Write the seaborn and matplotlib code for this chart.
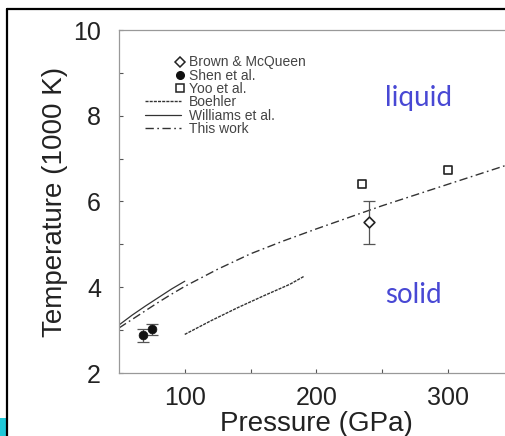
import numpy as np
import pandas as pd
import matplotlib
matplotlib.use("Agg")
import matplotlib.pyplot as plt
from matplotlib.lines import Line2D
from matplotlib.patches import Rectangle
from matplotlib.legend_handler import HandlerLine2D
import seaborn as sns

# Melting curves (pressure in GPa, temperature in 1000 K)
this_work_p = [50, 60, 70, 80, 90, 100, 125, 150, 175, 200, 225, 250, 275, 300, 325, 350]
this_work_t = [3.05, 3.25, 3.45, 3.65, 3.84, 4.02, 4.42, 4.78, 5.08, 5.36, 5.63, 5.9, 6.15, 6.4, 6.65, 6.9]

williams_p = [50, 60, 70, 80, 90, 100]
williams_t = [3.12, 3.35, 3.56, 3.76, 3.96, 4.14]

boehler_p = [100, 120, 140, 160, 180, 191]
boehler_t = [2.9, 3.22, 3.52, 3.8, 4.07, 4.26]

# Experimental points
brown_p, brown_t, brown_err = [240], [5.52], [0.5]
shen_p, shen_t, shen_err = [68, 75], [2.88, 3.02], [0.15, 0.13]
yoo_p, yoo_t = [235, 300], [6.4, 6.74]

sns.set_theme(style="ticks")
plt.rcParams["font.family"] = ["Liberation Sans", "DejaVu Sans"]

fig = plt.figure(figsize=(5.06, 4.36), dpi=100)
ax = fig.add_axes([119 / 506, 1 - 373 / 436, 300 * 1.315 / 506, 343 / 436])

ink = "#333333"
sns.lineplot(x=boehler_p, y=boehler_t, ax=ax, color=ink, lw=1.0,
             linestyle=(0, (2.2, 0.8)), label="Boehler")
sns.lineplot(x=williams_p, y=williams_t, ax=ax, color=ink, lw=0.9,
             linestyle="-", label="Williams et al.")
sns.lineplot(x=this_work_p, y=this_work_t, ax=ax, color=ink, lw=1.0,
             linestyle=(0, (6, 2.5, 1.2, 2.5)), label="This work")

ax.errorbar(brown_p, brown_t, yerr=brown_err, fmt="none", ecolor="#555555",
            elinewidth=0.9, capsize=4, capthick=0.9)
ax.errorbar(shen_p, shen_t, yerr=shen_err, fmt="none", ecolor="#555555",
            elinewidth=0.9, capsize=4, capthick=0.9)
sns.scatterplot(x=brown_p, y=brown_t, ax=ax, marker="D", s=30, facecolor="white",
                edgecolor="#222222", linewidth=1.2, label="Brown & McQueen", zorder=5)
sns.scatterplot(x=shen_p, y=shen_t, ax=ax, marker="o", s=40, color="#111111",
                edgecolor="#111111", label="Shen et al.", zorder=5)
sns.scatterplot(x=yoo_p, y=yoo_t, ax=ax, marker="s", s=40, facecolor="white",
                edgecolor="#222222", linewidth=1.2, label="Yoo et al.", zorder=5)

ax.set_xlim(50, 350)
ax.set_ylim(2, 10)
ax.set_xticks([100, 150, 200, 250, 300])
ax.set_xticklabels(["100", "", "200", "", "300"])
ax.set_yticks([2, 3, 4, 5, 6, 7, 8, 9, 10])
ax.set_yticklabels(["2", "", "4", "", "6", "", "8", "", "10"])
ax.tick_params(direction="in", length=3, width=0.8, color="#555555",
               labelsize=18, labelcolor="#222222")
ax.tick_params(axis="x", pad=9)
ax.tick_params(axis="y", pad=13)
for s in ax.spines.values():
    s.set_color("#999999")
    s.set_linewidth(0.9)
ax.set_xlabel("Pressure (GPa)", fontsize=20, color="#222222", labelpad=1)
ax.set_ylabel("Temperature (1000 K)", fontsize=20, color="#222222", labelpad=4)


class RightMarker(HandlerLine2D):
    """Place the single legend marker near the right end of the handle box."""

    def get_xdata(self, legend, xdescent, ydescent, width, height, fontsize):
        xr = -xdescent + width - 0.1 * fontsize
        return np.array([xr - 1.0, xr + 1.0]), np.array([xr])


handles, labels = ax.get_legend_handles_labels()
order = ["Brown & McQueen", "Shen et al.", "Yoo et al.", "Boehler", "Williams et al.", "This work"]
hmap = dict(zip(labels, handles))
marker_proxies = {
    "Brown & McQueen": Line2D([], [], ls="none", marker="D", ms=5, mfc="white", mec="#222222", mew=1.1),
    "Shen et al.": Line2D([], [], ls="none", marker="o", ms=5.5, mfc="#111111", mec="#111111"),
    "Yoo et al.": Line2D([], [], ls="none", marker="s", ms=5.5, mfc="white", mec="#222222", mew=1.1),
}
proxies = [marker_proxies.get(lab, hmap.get(lab)) for lab in order]
hmap_leg = {p: RightMarker(numpoints=1) for p in marker_proxies.values()}
leg = ax.legend(proxies, order, loc="upper left", bbox_to_anchor=(26 / 394.5, 0.926),
                frameon=False, handlelength=2.6, handletextpad=0.55,
                labelspacing=-0.05, borderaxespad=0, borderpad=0, numpoints=1,
                prop={"family": ["Liberation Sans Narrow", "Liberation Sans"], "size": 10},
                handler_map=hmap_leg)
for t in leg.get_texts():
    t.set_color("#444444")

ax.text(385 / 506, 1 - 98 / 436, "liquid", transform=fig.transFigure, fontsize=20,
        color="#4848d4", va="center", family=["Lato", "DejaVu Sans"])
ax.text(385 / 506, 1 - 295 / 436, "solid", transform=fig.transFigure, fontsize=20,
        color="#4848d4", va="center", family=["Lato", "DejaVu Sans"])

# slide frame
fig.add_artist(Line2D([7 / 506, 1], [1 - 9 / 436, 1 - 9 / 436], color="black", lw=1.6))
fig.add_artist(Line2D([7 / 506, 7 / 506], [0, 1 - 9 / 436], color="black", lw=1.6))
fig.add_artist(Rectangle((0, 0), 6 / 506, 18 / 436, color="#20c8d8", lw=0))

fig.savefig("out.png", dpi=100)
